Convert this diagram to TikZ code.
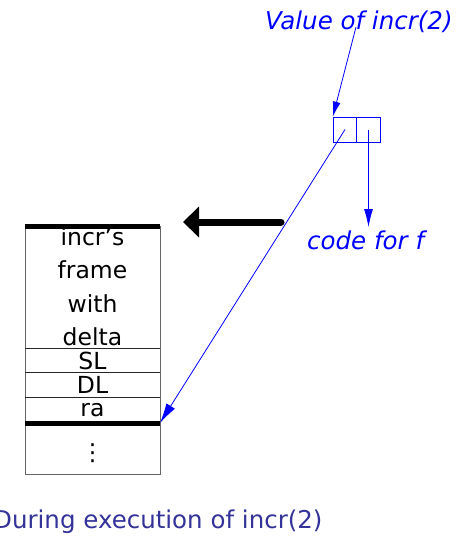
\documentclass[tikz,border=0pt]{standalone}
\usepackage{fontspec}
\setmainfont{DejaVu Sans}
\usetikzlibrary{arrows.meta}
\definecolor{navytext}{RGB}{51,51,153}
\tikzset{
  stacktxt/.style={anchor=base, inner sep=0pt, font=\fontsize{23.5}{23.5}\selectfont, text=black},
  bluetxt/.style={anchor=base west, inner sep=0pt, font=\fontsize{24.5}{24.5}\selectfont\itshape, text=blue},
  cell/.style={draw=blue, line width=0.8pt, minimum width=23.5pt, minimum height=25pt, inner sep=0pt},
  bluearrow/.style={draw=blue, line width=0.8pt},
  thinrule/.style={draw=black!85, line width=0.8pt},
  thickrule/.style={draw=black, line width=5pt},
}
\begin{document}
\begin{tikzpicture}[x=1pt,y=-1pt]
\useasboundingbox (0,0) rectangle (467,538);
% stack
\node[draw=black!60, line width=0.8pt, minimum width=135pt, minimum height=248pt, inner sep=0pt] (stack) at (92.5,350) {};
\draw[thinrule] (25,348) -- (160,348);
\draw[thinrule] (25,372) -- (160,372);
\draw[thinrule] (25,397) -- (160,397);
\draw[thickrule] (25,226) -- (160,226);
\draw[thickrule] (25,423) -- (160,423);
\coordinate (bar) at (160,423);
\node[stacktxt] (l1) at (92.5,245) {incr's};
\node[stacktxt] (l2) at (92.5,278) {frame};
\node[stacktxt] (l3) at (92.5,312) {with};
\node[stacktxt] (l4) at (92.5,345) {delta};
\node[stacktxt] (sl) at (92.5,369) {SL};
\node[stacktxt] (dl) at (92.5,393) {DL};
\node[stacktxt] (ra) at (92.5,416) {ra};
\node[stacktxt] (dots) at (92.5,460) {⋮};
% thick arrow
\coordinate (tA) at (281,222);
\coordinate (hA) at (183,222);
\draw[line width=7pt, line cap=round, -{Triangle[length=16pt,width=30pt]}] (tA) -- (hA);
% pair
\node[cell] (c1) at (345,129.5) {};
\node[cell] (c2) at (368.5,129.5) {};
% labels
\node[bluetxt] (val) at (265,29) {Value of incr(2)};
\coordinate (valpt) at (356,27);
\node[bluetxt] (code) at (307,249) {code for f};
\coordinate (codept) at (368.5,227);
\node[anchor=base west, inner sep=0pt, font=\fontsize{24.5}{24.5}\selectfont, text=navytext] (during) at (-7,528) {During execution of incr(2)};
% blue arrows
\draw[bluearrow, -{Latex[length=15pt,width=8pt]}] (valpt) -- (c1.north west);
\draw[bluearrow, -{Latex[length=18pt,width=9pt]}] (c2.center) -- (codept);
\draw[bluearrow, -{Latex[length=20pt,width=10pt]}] (c1.center) -- (bar);
\end{tikzpicture}
\end{document}
